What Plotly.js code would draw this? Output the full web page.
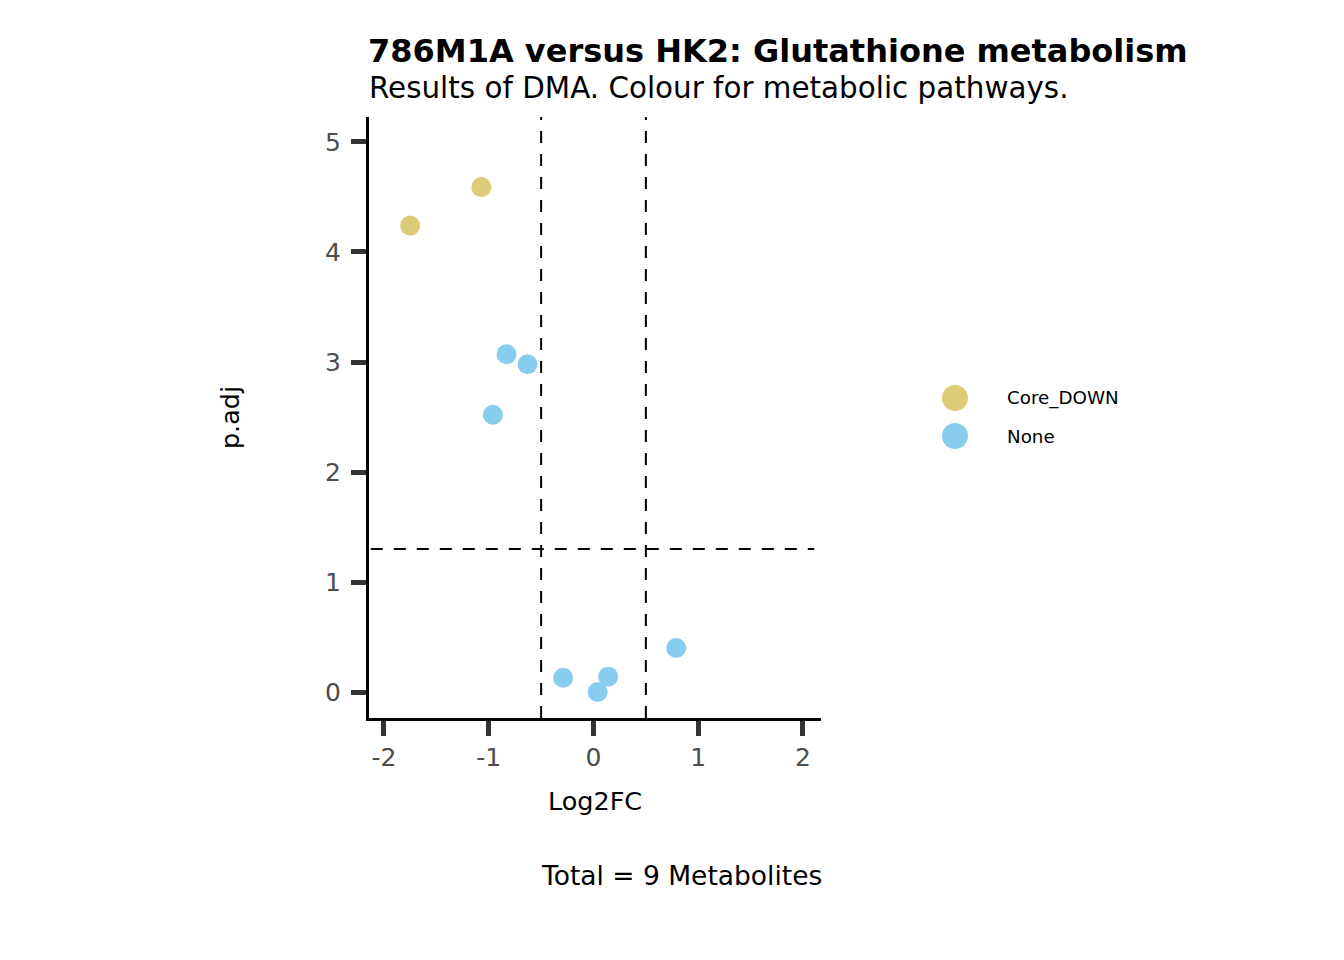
<!DOCTYPE html>
<html><head><meta charset="utf-8">
<script src="https://cdn.plot.ly/plotly-3.0.1.min.js"></script>
<style>body{margin:0;background:#fff}#c{width:1344px;height:960px}</style>
</head><body><div id="c"></div>
<script>
const categories = ["Core_DOWN", "None"];
const colours = {"Core_DOWN": "#DDCC77", "None": "#88CCEE"};
const metaboliteGroup = ["Core_DOWN","Core_DOWN","None","None","None","None","None","None","None"];
const log2fc = [-1.75, -1.07, -0.83, -0.63, -0.96, -0.29, 0.04, 0.14, 0.79];
const padj   = [4.24, 4.59, 3.07, 2.98, 2.52, 0.13, 0.00, 0.14, 0.40];
const xTicks = [-2, -1, 0, 1, 2];
const yTicks = [0, 1, 2, 3, 4, 5];
const fcCut = [-0.5, 0.5];
const pCut = 1.3;

const traces = categories.map(c => {
  const idx = metaboliteGroup.map((g,i)=>g===c?i:-1).filter(i=>i>=0);
  return {type:"scatter", mode:"markers", name:c, showlegend:false,
    x: idx.map(i=>log2fc[i]), y: idx.map(i=>padj[i]),
    marker:{color:colours[c], size:20, line:{width:0}}};
});

const PW = 821-369, PH = 718-117;
const shapes = [];
fcCut.forEach(v => shapes.push({type:"line", xref:"x", yref:"paper", x0:v, x1:v, y0:0, y1:1,
  line:{color:"black", width:2, dash:"12px,11px"}, layer:"below"}));
shapes.push({type:"line", xref:"paper", yref:"y", x0:0.004, x1:0.985, y0:pCut, y1:pCut,
  line:{color:"black", width:2, dash:"12px,11px"}, layer:"below"});

const annotations = [];
const legY = [398, 436];
categories.forEach((c,k) => {
  const cy = 1 - (legY[k] - 117)/PH;
  const cx = (955 - 369)/PW;
  const rx = 13/PW, ry = 13/PH;
  shapes.push({type:"circle", xref:"paper", yref:"paper", x0:cx-rx, x1:cx+rx, y0:cy-ry, y1:cy+ry,
    fillcolor:colours[c], line:{width:0}});
  annotations.push({xref:"paper", yref:"paper", x:(1005-369)/PW, y:cy, xanchor:"left", yanchor:"middle",
    text:c, showarrow:false, font:{family:"DejaVu Sans", size:18.3, color:"black"}});
});

annotations.push({xref:"paper", yref:"paper", x:-0.006, y:1+(117-51)/PH, xanchor:"left", yanchor:"middle",
  text:"<b>786M1A versus HK2: Glutathione metabolism</b>", showarrow:false,
  font:{family:"DejaVu Sans", size:32, color:"black"}});
annotations.push({xref:"paper", yref:"paper", x:-0.005, y:1+(117-88)/PH, xanchor:"left", yanchor:"middle",
  text:"Results of DMA. Colour for metabolic pathways.", showarrow:false,
  font:{family:"DejaVu Sans", size:29.4, color:"black"}});
annotations.push({xref:"paper", yref:"paper", x:(681-369)/PW, y:-(875-718)/PH, xanchor:"center", yanchor:"middle",
  text:"Total = 9 Metabolites", showarrow:false,
  font:{family:"DejaVu Sans", size:26.5, color:"black"}});

const layout = {
  width:1344, height:960, paper_bgcolor:"white", plot_bgcolor:"white",
  margin:{l:369, r:523, t:117, b:242},
  showlegend:false,
  font:{family:"DejaVu Sans"},
  xaxis:{range:[-2.143, 2.172], tickvals:xTicks, ticktext:xTicks.map(String),
    showgrid:false, zeroline:false, showline:true, linecolor:"black", linewidth:3,
    ticks:"outside", ticklen:15, tickwidth:5, tickcolor:"#333333",
    tickfont:{family:"DejaVu Sans", size:25, color:"#4d4d4d"},
    title:{text:"Log2FC", font:{family:"DejaVu Sans", size:25.5, color:"black"}, standoff:22}},
  yaxis:{range:[-0.236, 5.227], tickvals:yTicks, ticktext:yTicks.map(String),
    showgrid:false, zeroline:false, showline:true, linecolor:"black", linewidth:3,
    ticks:"outside", ticklen:15, tickwidth:5, tickcolor:"#333333", ticklabelstandoff:5,
    tickfont:{family:"DejaVu Sans", size:25, color:"#4d4d4d"},
    title:{text:"p.adj", font:{family:"DejaVu Sans", size:25.5, color:"black"}, standoff:79}},
  shapes:shapes, annotations:annotations
};
Plotly.newPlot("c", traces, layout, {displayModeBar:false, staticPlot:true});
</script></body></html>
